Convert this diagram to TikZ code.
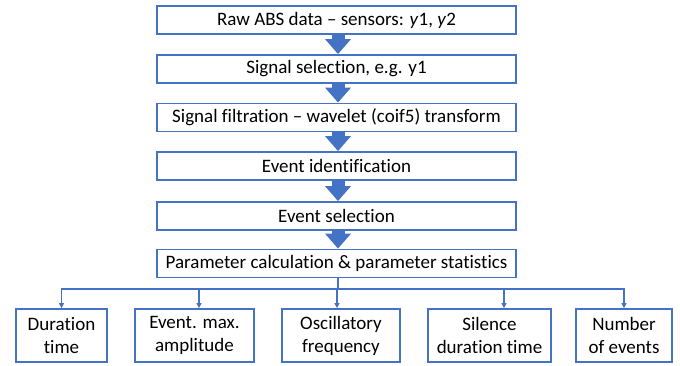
\documentclass[tikz,border=0pt]{standalone}
\usepackage{fontspec}
\setmainfont[Ligatures=NoCommon]{Carlito}
\usetikzlibrary{arrows.meta,calc}
\definecolor{oblue}{HTML}{4472C4}
\begin{document}
\begin{tikzpicture}[x=1pt,y=-1pt,
  mainbox/.style={draw=oblue,line width=1.8pt,fill=white,minimum width=359pt,minimum height=28pt,inner sep=0pt,font=\fontsize{19}{22}\selectfont},
  leafbox/.style={draw=oblue,line width=1.8pt,fill=white,minimum height=53pt,inner sep=0pt,align=center,font=\fontsize{19}{23}\selectfont},
  blockarrow/.style={oblue,line width=13pt,-{Triangle[width=25pt,length=15pt]}},
  conn/.style={oblue,line width=1.5pt},
  connarrow/.style={conn,-{Triangle[width=5pt,length=5pt]}}]
\useasboundingbox (0,0) rectangle (680,365);
\node[mainbox] (b1) at (336.5,20) {Raw ABS data -- sensors: \textit{y}1, \textit{y}2};
\node[mainbox] (b2) at (336.5,69) {Signal selection, e.g. y1};
\node[mainbox] (b3) at (336.5,117.5) {Signal filtration -- wavelet (coif5) transform};
\node[mainbox] (b4) at (336.5,166) {Event identification};
\node[mainbox] (b5) at (336.5,216) {Event selection};
\node[mainbox] (b6) at (336.5,263.5) {Parameter calculation \& parameter statistics};
\node[leafbox,minimum width=91pt] (lA) at (61.5,335.5) {Duration\\time};
\node[leafbox,minimum width=119pt] (lB) at (194.5,335.5) {Event. max.\\amplitude};
\node[leafbox,minimum width=118pt] (lC) at (341,335.5) {Oscillatory\\frequency};
\node[leafbox,minimum width=123pt] (lD) at (489.5,335.5) {Silence\\duration time};
\node[leafbox,minimum width=96pt] (lE) at (624,335.5) {Number\\of events};
\draw[blockarrow] ([xshift=1.5pt]b1.south) -- ([xshift=1.5pt]b2.north);
\draw[blockarrow] ([xshift=1.5pt]b2.south) -- ([xshift=1.5pt]b3.north);
\draw[blockarrow] ([xshift=1.5pt]b3.south) -- ([xshift=1.5pt]b4.north);
\draw[blockarrow] ([xshift=1.5pt]b4.south) -- ([xshift=1.5pt]b5.north);
\draw[blockarrow] ([xshift=1.5pt]b5.south) -- ([xshift=1.5pt]b6.north);
\coordinate (hub) at (338,289);
\draw[conn] ([xshift=1.5pt]b6.south) -- (hub);
\draw[connarrow] (hub) -| (lA.north);
\draw[connarrow] (hub) -| ([xshift=4.5pt]lB.north);
\draw[connarrow] (hub) -| ([xshift=-4pt]lC.north);
\draw[connarrow] (hub) -| ([xshift=14.5pt]lD.north);
\draw[connarrow] (hub) -| (lE.north);
\end{tikzpicture}
\end{document}
